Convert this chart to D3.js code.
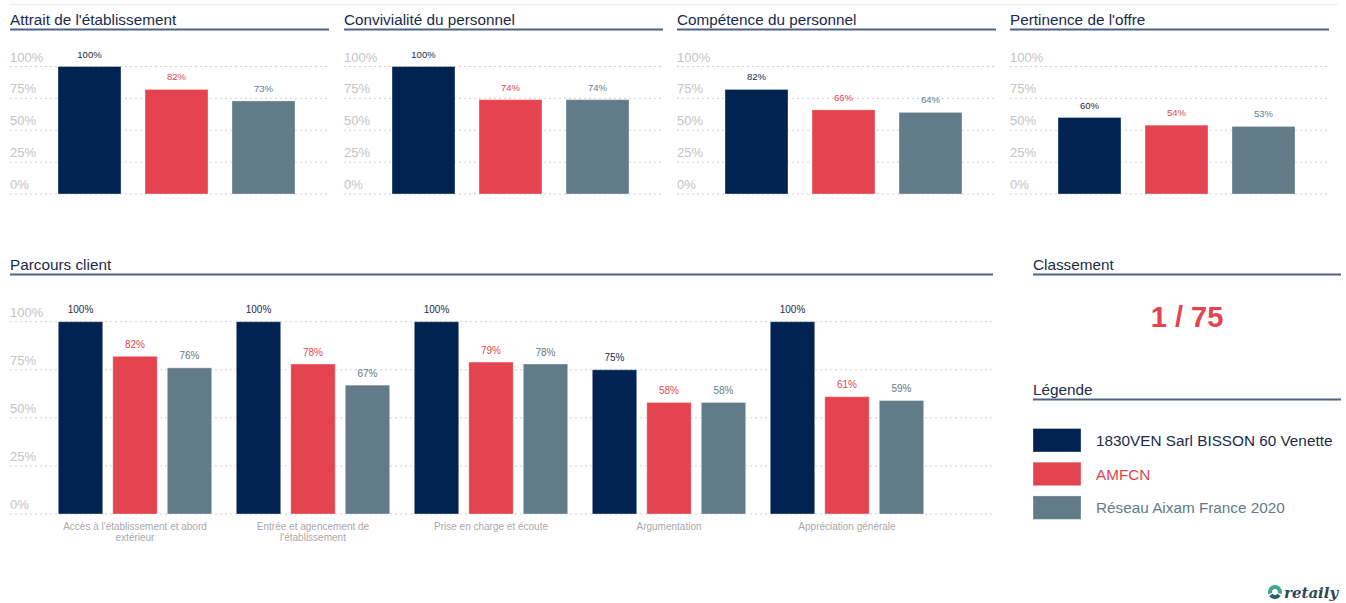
<!DOCTYPE html>
<html><head><meta charset="utf-8">
<script src="https://cdn.jsdelivr.net/npm/d3@7"></script>
<style>
html,body{margin:0;padding:0;background:#fff;}
svg{display:block;font-family:"Liberation Sans",Arial,Helvetica,sans-serif;}
</style></head>
<body>
<svg id="c" width="1346" height="603"></svg>
<script>
// ---- data ----
const series = ["1830VEN Sarl BISSON 60 Venette", "AMFCN", "Réseau Aixam France 2020"];
const seriesColors = ["#012352", "#e34450", "#627b89"];
const seriesTextColors = ["#1d2a47", "#e34450", "#627b89"];
const yTicks = [0, 25, 50, 75, 100];

const topTitles = ["Attrait de l'établissement", "Convivialité du personnel", "Compétence du personnel", "Pertinence de l'offre"];
const topValues = [
  [100, 82, 73],
  [100, 74, 74],
  [82, 66, 64],
  [60, 54, 53]
];

const journeyTitle = "Parcours client";
const journeyCategories = ["Accès à l'établissement et abord extérieur", "Entrée et agencement de l'établissement", "Prise en charge et écoute", "Argumentation", "Appréciation générale"];
const journeyS1 = [100, 100, 100, 75, 100];
const journeyS2 = [82, 78, 79, 58, 61];
const journeyS3 = [76, 67, 78, 58, 59];

const rankTitle = "Classement";
const rankText = "1 / 75";
const legendTitle = "Légende";

// ---- drawing ----
const svg = d3.select("#c");
const fmt = v => v + "%";

// top faint line
svg.append("line").attr("x1", 10).attr("x2", 1338).attr("y1", 4.5).attr("y2", 4.5)
  .attr("stroke", "#ececec").attr("stroke-width", 1);

function sectionTitle(x, w, baseline, text) {
  svg.append("text").attr("x", x).attr("y", baseline).text(text)
    .attr("font-size", 15.3).attr("fill", "#1b2a4a");
  svg.append("line").attr("x1", x).attr("x2", x + w).attr("y1", baseline + 4.5).attr("y2", baseline + 4.5)
    .attr("stroke", "#4f6389").attr("stroke-width", 2);
}

function yGrid(g, y, x0, x1) {
  yTicks.forEach(t => {
    g.append("line").attr("x1", x0).attr("x2", x1).attr("y1", y(t)).attr("y2", y(t))
      .attr("stroke", "#cfcfcf").attr("stroke-width", 1).attr("stroke-dasharray", "2,3");
    g.append("text").attr("x", x0).attr("y", y(t) - 5).text(fmt(t))
      .attr("font-size", 13).attr("fill", "#c4c4c4");
  });
}

// top panels
const panelX = [10, 344, 677, 1010];
const panelW = 319;
topTitles.forEach((title, i) => {
  const px = panelX[i];
  sectionTitle(px, panelW, 25, title);
  const g = svg.append("g");
  const y = d3.scaleLinear().domain([0, 100]).range([194, 66.5]);
  yGrid(g, y, px, px + panelW);
  const x = d3.scaleBand().domain(d3.range(3)).range([px + 48, px + 285]).paddingInner(0.276).paddingOuter(0);
  const vals = topValues[i];
  g.selectAll("rect.b").data(vals).enter().append("rect")
    .attr("x", (d, j) => x(j)).attr("width", x.bandwidth())
    .attr("y", d => y(d)).attr("height", d => y(0) - y(d))
    .attr("fill", (d, j) => seriesColors[j])
    .attr("stroke", "rgba(255,255,255,0.35)").attr("stroke-width", 1);
  g.selectAll("text.v").data(vals).enter().append("text")
    .attr("x", (d, j) => x(j) + x.bandwidth() / 2).attr("y", d => y(d) - 9)
    .attr("text-anchor", "middle").attr("font-size", 9.5)
    .attr("fill", (d, j) => seriesTextColors[j]).text(fmt);
});

// journey panel
sectionTitle(10, 983, 270, journeyTitle);
{
  const g = svg.append("g");
  const y = d3.scaleLinear().domain([0, 100]).range([514, 321.7]);
  yGrid(g, y, 10, 993);
  const x0 = d3.scaleBand().domain(journeyCategories).range([46, 936]).padding(0);
  const x1 = d3.scaleBand().domain(d3.range(3)).range([12.3, 165.7]).paddingInner(0.185).paddingOuter(0);
  const rows = journeyCategories.map((c, k) => ({ c, v: [journeyS1[k], journeyS2[k], journeyS3[k]] }));
  const grp = g.selectAll("g.grp").data(rows).enter().append("g")
    .attr("transform", d => `translate(${x0(d.c)},0)`);
  grp.selectAll("rect").data(d => d.v).enter().append("rect")
    .attr("x", (d, j) => x1(j)).attr("width", x1.bandwidth())
    .attr("y", d => y(d)).attr("height", d => y(0) - y(d))
    .attr("fill", (d, j) => seriesColors[j])
    .attr("stroke", "rgba(255,255,255,0.35)").attr("stroke-width", 1);
  grp.selectAll("text.v").data(d => d.v).enter().append("text")
    .attr("x", (d, j) => x1(j) + x1.bandwidth() / 2).attr("y", d => y(d) - 8.5)
    .attr("text-anchor", "middle").attr("font-size", 10)
    .attr("fill", (d, j) => seriesTextColors[j]).text(fmt);
  // category labels with wrapping
  grp.each(function (d) {
    const cx = x0.bandwidth() / 2;
    const t = d3.select(this).append("text").attr("text-anchor", "middle")
      .attr("font-size", 10).attr("fill", "#a9a9a9");
    const words = d.c.split(" ");
    let line = [], lineNo = 0;
    let ts = t.append("tspan").attr("x", cx).attr("y", 530);
    words.forEach(w => {
      line.push(w);
      ts.text(line.join(" "));
      if (ts.node().getComputedTextLength() > 158 && line.length > 1) {
        line.pop();
        ts.text(line.join(" "));
        line = [w];
        lineNo++;
        ts = t.append("tspan").attr("x", cx).attr("y", 530 + lineNo * 11).text(w);
      }
    });
  });
}

// ranking
sectionTitle(1033, 308, 270, rankTitle);
svg.append("text").attr("x", 1187).attr("y", 327).attr("text-anchor", "middle")
  .attr("font-size", 29).attr("font-weight", "bold").attr("fill", "#e34450").text(rankText);

// legend
sectionTitle(1033, 308, 395, legendTitle);
const lg = svg.append("g").selectAll("g").data(series).enter().append("g")
  .attr("transform", (d, i) => `translate(1033,${428.5 + i * 33.7})`);
lg.append("rect").attr("width", 48).attr("height", 23.5)
  .attr("fill", (d, i) => seriesColors[i]).attr("stroke", "rgba(255,255,255,0.35)");
lg.append("text").attr("x", 63).attr("y", 17.5).attr("font-size", 15.3)
  .attr("fill", (d, i) => seriesTextColors[i]).text(d => d);

// retaily logo
const logo = svg.append("g").attr("transform", "translate(1275,592)");
logo.append("path").attr("d", d3.arc()({ innerRadius: 3, outerRadius: 7, startAngle: -1.9, endAngle: 1.9 }))
  .attr("fill", "#3fa88e");
logo.append("path").attr("d", d3.arc()({ innerRadius: 3, outerRadius: 7, startAngle: 2.2, endAngle: 4.1 }))
  .attr("fill", "#2b5f73");
svg.append("text").attr("x", 1284).attr("y", 598).attr("font-family", "'DejaVu Serif',serif")
  .attr("font-style", "italic").attr("font-weight", "bold").attr("font-size", 15)
  .attr("fill", "#2f4755").text("retaily");
</script>
</body></html>
